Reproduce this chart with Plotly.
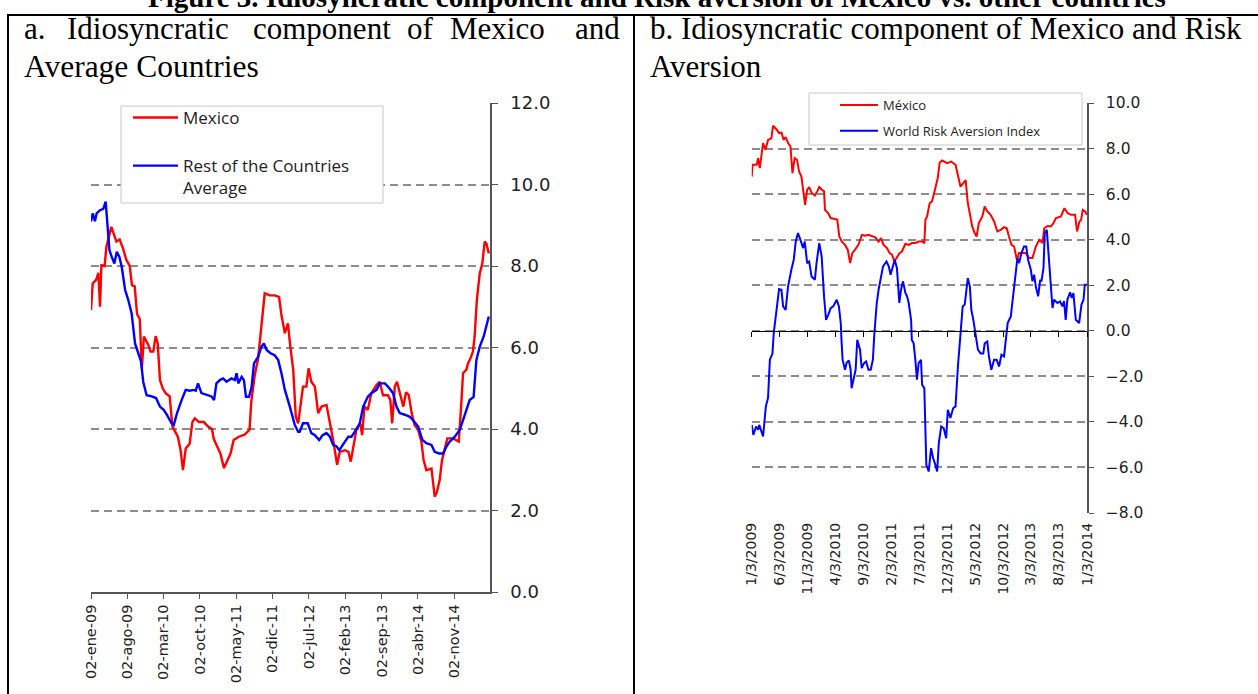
import plotly.graph_objects as go

W, H = 1258, 694

# ---------------- Panel a data ----------------
mex_a_dates = ["2009-01-02","2009-01-12","2009-02-01","2009-02-14","2009-02-24","2009-03-04","2009-03-23","2009-04-02",
    "2009-05-01","2009-05-31","2009-06-19","2009-07-08","2009-07-28","2009-08-17","2009-08-30","2009-09-15","2009-09-29",
    "2009-10-15","2009-10-23","2009-10-27","2009-11-08","2009-12-03","2009-12-17","2010-01-02","2010-01-16","2010-01-28",
    "2010-02-10","2010-02-26","2010-03-15","2010-04-08","2010-04-24","2010-05-26","2010-06-11","2010-06-25","2010-07-11",
    "2010-08-03","2010-08-19","2010-09-02","2010-09-27","2010-10-25","2010-11-19","2010-12-12","2010-12-22","2011-01-12",
    "2011-01-31","2011-02-20","2011-03-10","2011-03-30","2011-04-18","2011-05-18","2011-06-21","2011-07-20","2011-07-30",
    "2011-08-19","2011-09-08","2011-09-28","2011-10-17","2011-11-15","2011-12-14","2012-01-09","2012-01-23","2012-02-12",
    "2012-03-01","2012-03-15","2012-04-01","2012-04-16","2012-04-30","2012-05-13","2012-05-28","2012-06-17","2012-06-30",
    "2012-07-16","2012-08-06","2012-08-25","2012-09-14","2012-10-13","2012-11-02","2012-11-21","2012-12-14","2012-12-30",
    "2013-01-29","2013-02-18","2013-03-04","2013-03-21","2013-04-06","2013-04-28","2013-05-10","2013-05-23","2013-06-12",
    "2013-07-03","2013-08-02","2013-08-21","2013-09-09","2013-10-08","2013-10-22","2013-11-02","2013-11-17","2013-11-30",
    "2013-12-16","2014-01-06","2014-01-22","2014-02-07","2014-02-24","2014-03-13","2014-04-03","2014-04-22","2014-05-05",
    "2014-05-21","2014-06-20","2014-07-09","2014-07-22","2014-08-07","2014-08-21","2014-09-09","2014-09-21","2014-10-24",
    "2014-11-13","2014-11-27","2014-12-12","2014-12-22","2015-01-10","2015-01-20","2015-02-03","2015-02-18","2015-02-28",
    "2015-03-13","2015-03-30","2015-04-14","2015-04-28","2015-05-08","2015-05-22"]
mex_a_vals = [6.92,7.57,7.66,7.83,7.00,8.02,8.00,8.47,
    8.96,8.60,8.65,8.44,8.15,8.00,7.53,7.50,6.82,
    6.70,5.86,5.48,6.27,6.07,5.90,5.90,6.28,6.10,
    5.20,5.00,4.88,4.80,4.06,3.81,3.48,2.99,3.52,
    3.64,4.17,4.26,4.17,4.17,4.06,4.00,3.76,3.55,
    3.39,3.04,3.22,3.39,3.73,3.81,3.86,3.98,4.66,
    5.31,5.72,6.50,7.33,7.28,7.28,7.24,6.79,6.35,
    6.59,6.02,5.45,4.30,4.14,4.55,5.04,5.04,5.49,
    5.16,5.04,4.39,4.55,4.59,4.18,3.73,3.12,3.44,
    3.48,3.44,3.20,3.65,3.98,4.14,3.85,4.55,4.47,
    4.88,5.08,5.16,4.83,4.83,4.71,4.14,5.04,5.16,
    4.92,4.55,4.90,4.83,4.39,4.10,3.98,3.69,3.24,
    2.99,3.03,2.34,2.46,2.75,3.24,3.57,3.77,3.77,
    3.73,3.69,4.63,5.37,5.45,5.61,5.73,5.90,6.27,
    7.17,7.82,8.06,8.60,8.55,8.31]

rest_a_dates = ["2009-01-02","2009-01-12","2009-01-25","2009-02-04","2009-02-24","2009-03-15","2009-03-29","2009-04-08",
    "2009-04-20","2009-05-03","2009-05-19","2009-06-02","2009-06-17","2009-07-01","2009-07-21","2009-08-08","2009-08-28",
    "2009-09-17","2009-10-06","2009-10-22","2009-11-04","2009-11-24","2009-12-24","2010-01-18","2010-02-10","2010-03-04",
    "2010-03-24","2010-04-19","2010-05-02","2010-05-21","2010-06-17","2010-07-11","2010-08-03","2010-08-27","2010-09-08",
    "2010-09-21","2010-10-11","2010-11-09","2010-12-09","2010-12-24","2011-01-07","2011-01-27","2011-02-15","2011-03-07",
    "2011-03-22","2011-04-05","2011-04-25","2011-05-05","2011-05-15","2011-06-04","2011-06-17","2011-06-29","2011-07-17",
    "2011-08-01","2011-08-15","2011-09-08","2011-09-28","2011-10-12","2011-10-28","2011-11-20","2011-12-14","2012-01-04",
    "2012-01-23","2012-02-12","2012-03-12","2012-04-10","2012-04-30","2012-05-09","2012-05-28","2012-06-25","2012-07-16",
    "2012-08-06","2012-08-31","2012-09-20","2012-10-13","2012-11-02","2012-11-21","2012-12-11","2012-12-27","2013-01-09",
    "2013-01-29","2013-02-18","2013-03-08","2013-03-27","2013-04-26","2013-05-16","2013-06-12","2013-07-03","2013-08-02",
    "2013-08-21","2013-09-20","2013-10-08","2013-11-07","2013-11-27","2013-12-16","2014-01-15","2014-02-13","2014-03-03",
    "2014-04-03","2014-04-28","2014-05-21","2014-06-20","2014-07-09","2014-08-04","2014-08-27","2014-09-16","2014-10-05",
    "2014-11-04","2014-12-03","2014-12-22","2015-01-10","2015-01-30","2015-02-22","2015-03-10","2015-03-30","2015-04-22",
    "2015-05-22"]
rest_a_vals = [9.09,9.29,9.10,9.29,9.37,9.40,9.58,9.05,
    8.39,8.23,8.06,8.35,8.23,7.98,7.41,7.17,6.84,
    6.10,5.86,5.66,5.16,4.83,4.80,4.76,4.55,4.47,
    4.34,4.14,4.10,4.39,4.71,4.96,4.94,4.96,4.94,
    5.12,4.88,4.84,4.80,4.71,5.12,5.20,5.24,5.16,
    5.20,5.24,5.20,5.37,5.12,5.28,5.20,4.79,4.79,
    5.03,5.61,5.77,6.02,6.10,5.94,5.86,5.81,5.69,
    5.37,4.96,4.55,4.10,3.93,3.93,4.14,4.14,3.90,
    3.85,3.73,3.85,3.90,3.81,3.61,3.57,3.48,3.57,
    3.69,3.81,3.81,3.93,4.14,4.55,4.79,4.88,4.96,
    5.12,5.12,5.04,4.88,4.55,4.39,4.35,4.30,4.22,
    4.06,3.73,3.65,3.61,3.44,3.40,3.40,3.57,3.69,
    3.81,3.98,4.22,4.47,4.71,4.79,5.69,6.02,6.27,
    6.76]

a_tickvals = ["2009-01-02","2009-08-02","2010-03-02","2010-10-02","2011-05-02","2011-12-02",
              "2012-07-02","2013-02-02","2013-09-02","2014-04-02","2014-11-02"]
a_ticktext = ["02-ene-09","02-ago-09","02-mar-10","02-oct-10","02-may-11","02-dic-11",
              "02-jul-12","02-feb-13","02-sep-13","02-abr-14","02-nov-14"]

# ---------------- Panel b data ----------------
mex_b_dates = ["2009-01-03","2009-01-08","2009-01-30","2009-02-07","2009-02-16","2009-03-06","2009-03-19","2009-04-02",
    "2009-04-20","2009-04-29","2009-05-17","2009-06-01","2009-06-14","2009-06-26","2009-07-07","2009-07-20","2009-08-02",
    "2009-08-13","2009-08-25","2009-09-07","2009-09-18","2009-10-01","2009-10-10","2009-10-21","2009-11-01","2009-11-12",
    "2009-11-25","2009-12-13","2009-12-26","2010-01-06","2010-01-19","2010-02-01","2010-02-06","2010-02-24","2010-03-09",
    "2010-04-02","2010-04-14","2010-04-25","2010-05-08","2010-05-26","2010-06-10","2010-06-23","2010-07-05","2010-07-20",
    "2010-08-07","2010-08-26","2010-09-13","2010-10-01","2010-10-20","2010-11-07","2010-11-25","2010-12-08","2010-12-22",
    "2011-01-10","2011-01-24","2011-02-06","2011-02-19","2011-03-05","2011-03-19","2011-04-01","2011-04-20","2011-05-08",
    "2011-05-26","2011-06-13","2011-07-01","2011-07-20","2011-08-01","2011-08-07","2011-08-16","2011-08-30","2011-09-12",
    "2011-09-30","2011-10-13","2011-10-24","2011-11-06","2011-12-03","2011-12-25","2012-01-18","2012-01-31","2012-02-14",
    "2012-02-29","2012-03-13","2012-03-25","2012-04-05","2012-04-18","2012-05-01","2012-05-12","2012-05-24","2012-06-12",
    "2012-06-25","2012-07-09","2012-07-27","2012-08-15","2012-09-02","2012-09-20","2012-10-08","2012-10-23","2012-11-04",
    "2012-11-18","2012-12-02","2012-12-17","2012-12-29","2013-01-17","2013-02-04","2013-02-22","2013-03-12","2013-03-30",
    "2013-04-18","2013-05-06","2013-05-15","2013-06-02","2013-06-20","2013-07-05","2013-07-18","2013-08-14","2013-09-02",
    "2013-09-20","2013-10-08","2013-10-30","2013-11-10","2013-11-23","2013-12-02","2013-12-11","2013-12-24","2014-01-03"]
mex_b_vals = [6.77,7.29,7.29,7.58,7.14,8.24,7.95,8.38,
    8.45,9.00,8.85,8.68,8.70,8.38,8.50,8.24,8.10,
    6.92,7.58,7.50,6.99,6.77,6.19,5.53,6.19,6.31,
    6.06,5.94,6.12,6.31,6.20,6.12,5.31,5.16,4.95,
    4.88,4.88,4.14,3.92,3.77,3.56,2.97,3.41,3.56,
    3.77,4.21,4.17,4.21,4.14,4.10,3.92,4.07,3.77,
    3.63,3.41,3.34,3.04,3.26,3.41,3.48,3.82,3.77,
    3.85,3.85,3.92,3.92,3.85,4.87,5.02,5.60,5.68,
    6.26,6.70,7.39,7.48,7.36,7.43,7.29,6.77,6.33,
    6.48,6.62,5.60,5.16,4.58,4.29,4.14,4.73,5.02,
    5.46,5.24,5.09,4.80,4.36,4.43,4.55,4.50,4.14,
    3.77,3.70,3.12,3.41,3.41,3.41,3.19,3.19,3.70,
    3.99,3.85,4.50,4.60,4.58,4.73,4.95,5.02,5.38,
    5.16,5.09,5.09,4.36,4.80,4.87,5.31,5.24,5.09]

wrai_b_dates = ["2009-01-03","2009-01-12","2009-01-27","2009-02-07","2009-02-13","2009-02-26","2009-03-06","2009-03-21",
    "2009-04-02","2009-04-12","2009-04-26","2009-05-03","2009-05-09","2009-05-21","2009-06-01","2009-06-14","2009-06-23",
    "2009-07-07","2009-07-20","2009-08-07","2009-08-20","2009-08-31","2009-09-12","2009-09-25","2009-10-10","2009-10-19",
    "2009-11-01","2009-11-12","2009-11-25","2009-12-13","2009-12-22","2010-01-06","2010-01-19","2010-02-01","2010-02-12",
    "2010-02-24","2010-03-09","2010-03-23","2010-04-11","2010-04-23","2010-05-03","2010-05-07","2010-05-13","2010-05-26",
    "2010-06-04","2010-06-16","2010-06-26","2010-07-01","2010-07-14","2010-07-23","2010-08-01","2010-08-16","2010-08-25",
    "2010-09-07","2010-09-18","2010-10-01","2010-10-13","2010-10-25","2010-11-01","2010-11-07","2010-11-15","2010-11-25",
    "2010-12-08","2010-12-19","2011-01-07","2011-01-20","2011-01-29","2011-02-10","2011-02-21","2011-03-05","2011-03-18",
    "2011-03-27","2011-04-07","2011-04-20","2011-04-29","2011-05-08","2011-05-21","2011-05-25","2011-06-04","2011-06-13",
    "2011-06-22","2011-07-01","2011-07-14","2011-07-20","2011-08-01","2011-08-12","2011-08-25","2011-09-07","2011-09-18",
    "2011-09-30","2011-10-10","2011-10-19","2011-11-01","2011-11-15","2011-11-28","2011-12-07","2011-12-21","2012-01-05",
    "2012-01-18","2012-01-31","2012-02-11","2012-02-18","2012-02-26","2012-03-08","2012-03-17","2012-03-25","2012-04-05",
    "2012-04-13","2012-04-24","2012-05-06","2012-05-19","2012-06-03","2012-06-17","2012-06-25","2012-07-09","2012-07-18",
    "2012-07-31","2012-08-15","2012-08-29","2012-09-11","2012-09-24","2012-10-08","2012-10-17","2012-10-23","2012-10-28",
    "2012-11-14","2012-11-28","2012-12-11","2012-12-20","2012-12-29","2013-01-11","2013-01-25","2013-02-06","2013-02-16",
    "2013-03-03","2013-03-12","2013-03-21","2013-03-30","2013-04-12","2013-04-23","2013-04-30","2013-05-11","2013-05-18",
    "2013-05-29","2013-06-05","2013-06-16","2013-06-29","2013-07-08","2013-07-26","2013-08-09","2013-08-22","2013-08-31",
    "2013-09-09","2013-09-18","2013-10-03","2013-10-12","2013-10-21","2013-11-03","2013-11-21","2013-12-04","2013-12-15",
    "2013-12-22","2014-01-03"]
wrai_b_vals = [-4.13,-4.57,-4.20,-4.35,-4.13,-4.50,-4.64,-3.32,
    -2.95,-1.27,-1.00,-0.10,0.34,1.22,1.83,1.80,1.07,
    0.92,1.95,2.68,3.12,3.92,4.29,4.00,3.63,3.92,
    2.97,3.04,2.38,2.24,2.97,3.85,3.26,1.51,0.48,
    0.70,0.99,1.07,1.36,1.07,0.34,-0.40,-1.27,-1.71,
    -1.40,-1.30,-1.71,-2.52,-2.00,-1.71,-0.40,-0.83,-1.64,
    -1.42,-1.35,-1.71,-1.71,-1.27,-0.25,0.34,1.22,1.80,
    2.38,2.82,3.04,2.82,2.46,2.82,3.12,2.75,1.22,
    1.80,2.17,1.66,1.51,1.22,0.48,-0.40,-0.55,-1.27,
    -2.15,-1.42,-1.27,-2.37,-2.52,-5.88,-6.18,-5.15,-5.59,
    -5.88,-6.18,-4.93,-4.20,-4.28,-4.72,-3.47,-3.83,-3.40,
    -3.32,-1.57,-0.40,0.34,1.07,1.15,1.95,2.31,1.95,
    0.92,0.48,-0.10,-0.83,-1.00,-1.00,-0.55,-0.47,-1.13,
    -1.71,-1.27,-1.27,-1.57,-1.05,-1.13,-0.55,0.03,0.34,
    0.63,1.66,2.68,3.19,2.97,3.41,3.70,3.70,3.12,
    2.68,2.17,2.46,1.95,1.51,2.24,2.17,2.75,4.29,
    4.43,3.56,2.53,1.00,1.36,1.22,1.29,1.07,1.30,
    0.48,1.36,1.69,1.44,1.66,0.48,0.34,1.15,1.36,
    2.02,2.02]

b_tickvals = ["2009-01-03","2009-06-03","2009-11-03","2010-04-03","2010-09-03","2011-02-03","2011-07-03",
              "2011-12-03","2012-05-03","2012-10-03","2013-03-03","2013-08-03","2014-01-03"]
b_ticktext = ["1/3/2009","6/3/2009","11/3/2009","4/3/2010","9/3/2010","2/3/2011","7/3/2011",
              "12/3/2011","5/3/2012","10/3/2012","3/3/2013","8/3/2013","1/3/2014"]


def fx(p):
    return p / W


def fy(p):
    return 1 - p / H


TICKF = "DejaVu Sans"
GRID = "#8c8c8c"
AXC = "#555555"

fig = go.Figure()

fig.add_trace(go.Scatter(x=mex_a_dates, y=mex_a_vals, name="Mexico", mode="lines",
                         line=dict(color="#ff0000", width=2.4), xaxis="x", yaxis="y",
                         legend="legend", legendgroup="a1"))
fig.add_trace(go.Scatter(x=rest_a_dates, y=rest_a_vals, name="Rest of the Countries<br>Average", mode="lines",
                         line=dict(color="#0000ff", width=2.4), xaxis="x", yaxis="y",
                         legend="legend", legendgroup="a2"))
fig.add_trace(go.Scatter(x=mex_b_dates, y=mex_b_vals, name="México", mode="lines",
                         line=dict(color="#ff0000", width=2), xaxis="x2", yaxis="y2",
                         legend="legend2", legendgroup="b1"))
fig.add_trace(go.Scatter(x=wrai_b_dates, y=wrai_b_vals, name="World Risk Aversion Index", mode="lines",
                         line=dict(color="#0000ff", width=2), xaxis="x2", yaxis="y2",
                         legend="legend2", legendgroup="b2"))
# carrier for the bottom label axis of panel b
fig.add_trace(go.Scatter(x=[], y=[], xaxis="x3", yaxis="y2", showlegend=False, hoverinfo="skip"))

ya_dom = [fy(592), fy(103)]
yb_dom = [fy(513), fy(103)]
zero_pos = yb_dom[0] + (0 - (-8)) / 18 * (yb_dom[1] - yb_dom[0])

fig.update_layout(
    width=W, height=H, autosize=False,
    margin=dict(l=0, r=0, t=0, b=0, autoexpand=False),
    paper_bgcolor="white", plot_bgcolor="white",
    showlegend=True,
    xaxis=dict(domain=[fx(91), fx(490)], anchor="y", type="date", automargin=False,
               range=["2009-01-02", "2015-05-29"], tickmode="array",
               tickvals=a_tickvals, ticktext=a_ticktext, tickangle=-90,
               ticks="outside", ticklen=5, tickcolor=AXC, showline=True, linecolor=AXC,
               linewidth=1.5, showgrid=False, zeroline=False,
               tickfont=dict(family=TICKF, size=14.5, color="#222")),
    yaxis=dict(domain=ya_dom, anchor="x", side="right", range=[0, 12], dtick=2, tick0=0,
               automargin=False,
               tickformat=".1f", showgrid=True, gridcolor=GRID, griddash="8px,5px", gridwidth=1.5,
               showline=True, linecolor=AXC, linewidth=1.5, ticks="outside", ticklen=6,
               tickcolor=AXC, zeroline=False, ticklabelstandoff=9,
               tickfont=dict(family=TICKF, size=18, color="#222")),
    xaxis2=dict(domain=[fx(751.7), fx(1087)], anchor="free", position=zero_pos, type="date",
                automargin=False,
                range=["2009-01-03", "2014-01-03"], tickmode="array", tickvals=b_tickvals,
                showticklabels=False, ticks="outside", ticklen=5, tickcolor="#000",
                showline=True, linecolor="#000", linewidth=1.2, showgrid=False, zeroline=False),
    xaxis3=dict(overlaying="x2", anchor="y2", type="date", automargin=False,
                range=["2009-01-03", "2014-01-03"], tickmode="array", tickvals=b_tickvals,
                ticktext=b_ticktext, tickangle=-90, ticks="", showline=False, showgrid=False,
                zeroline=False, ticklabelstandoff=6,
                tickfont=dict(family=TICKF, size=14, color="#222")),
    yaxis2=dict(domain=yb_dom, anchor="x2", side="right", range=[-8, 10], dtick=2, tick0=0,
                automargin=False,
                tickformat=".1f", showgrid=True, gridcolor=GRID, griddash="8px,5px", gridwidth=1.5,
                showline=True, linecolor=AXC, linewidth=1.5, ticks="outside", ticklen=5,
                tickcolor=AXC, zeroline=False, ticklabelstandoff=9,
                tickfont=dict(family=TICKF, size=15.5, color="#222")),
    legend=dict(x=fx(128), y=fy(100), xanchor="left", yanchor="top", bgcolor="rgba(0,0,0,0)",
                borderwidth=0, font=dict(family="Open Sans", size=17, color="#222"),
                traceorder="grouped", tracegroupgap=23, itemwidth=45, valign="top"),
    legend2=dict(x=fx(835), y=fy(90), xanchor="left", yanchor="top", bgcolor="rgba(0,0,0,0)",
                 borderwidth=0, font=dict(family="Open Sans", size=13, color="#222"),
                 traceorder="grouped", tracegroupgap=6, itemwidth=38, valign="top"),
)

shapes = [
    # legend boxes
    dict(type="rect", xref="paper", yref="paper", x0=fx(121), x1=fx(383), y0=fy(203), y1=fy(106),
         fillcolor="white", line=dict(color="#c8c8c8", width=1), layer="above"),
    dict(type="rect", xref="paper", yref="paper", x0=fx(809), x1=fx(1082), y0=fy(145), y1=fy(93),
         fillcolor="white", line=dict(color="#c8c8c8", width=1), layer="above"),
    # table frame
    dict(type="line", xref="paper", yref="paper", x0=fx(7), x1=1, y0=fy(15), y1=fy(15),
         line=dict(color="black", width=2)),
    dict(type="line", xref="paper", yref="paper", x0=fx(8), x1=fx(8), y0=fy(15), y1=0,
         line=dict(color="black", width=2)),
    dict(type="line", xref="paper", yref="paper", x0=fx(634), x1=fx(634), y0=fy(15), y1=0,
         line=dict(color="black", width=2)),
]
fig.update_layout(shapes=shapes)

SERIF = "Liberation Serif"
ann = []
# top (cropped) figure caption
ann.append(dict(text="<b>Figure 3. Idiosyncratic component and Risk aversion of Mexico vs. other countries</b>",
                xref="paper", yref="paper", x=fx(657), y=fy(15), xanchor="center", yanchor="bottom",
                showarrow=False, font=dict(family=SERIF, size=29, color="black")))
# panel a title, first line justified
words = [("a.", 22), ("Idiosyncratic", 65), ("component", 251), ("of", 405), ("Mexico", 448), ("and", 573)]
for wtxt, xp in words:
    ann.append(dict(text=wtxt, xref="paper", yref="paper", x=fx(xp), y=fy(28), xanchor="left",
                    yanchor="middle", showarrow=False, font=dict(family=SERIF, size=31, color="black")))
ann.append(dict(text="Average Countries", xref="paper", yref="paper", x=fx(22), y=fy(66), xanchor="left",
                yanchor="middle", showarrow=False, font=dict(family=SERIF, size=31.5, color="black")))
ann.append(dict(text="b. Idiosyncratic component of Mexico and Risk", xref="paper", yref="paper", x=fx(648),
                y=fy(28), xanchor="left", yanchor="middle", showarrow=False,
                font=dict(family=SERIF, size=31, color="black")))
ann.append(dict(text="Aversion", xref="paper", yref="paper", x=fx(648), y=fy(66), xanchor="left",
                yanchor="middle", showarrow=False, font=dict(family=SERIF, size=31, color="black")))
fig.update_layout(annotations=ann)

# the page body normally adds an 8px margin; remove it so the figure fills the window exactly
fig.write_html("out.html", config={"displayModeBar": False},
               post_script="document.body.style.margin='0px';")
